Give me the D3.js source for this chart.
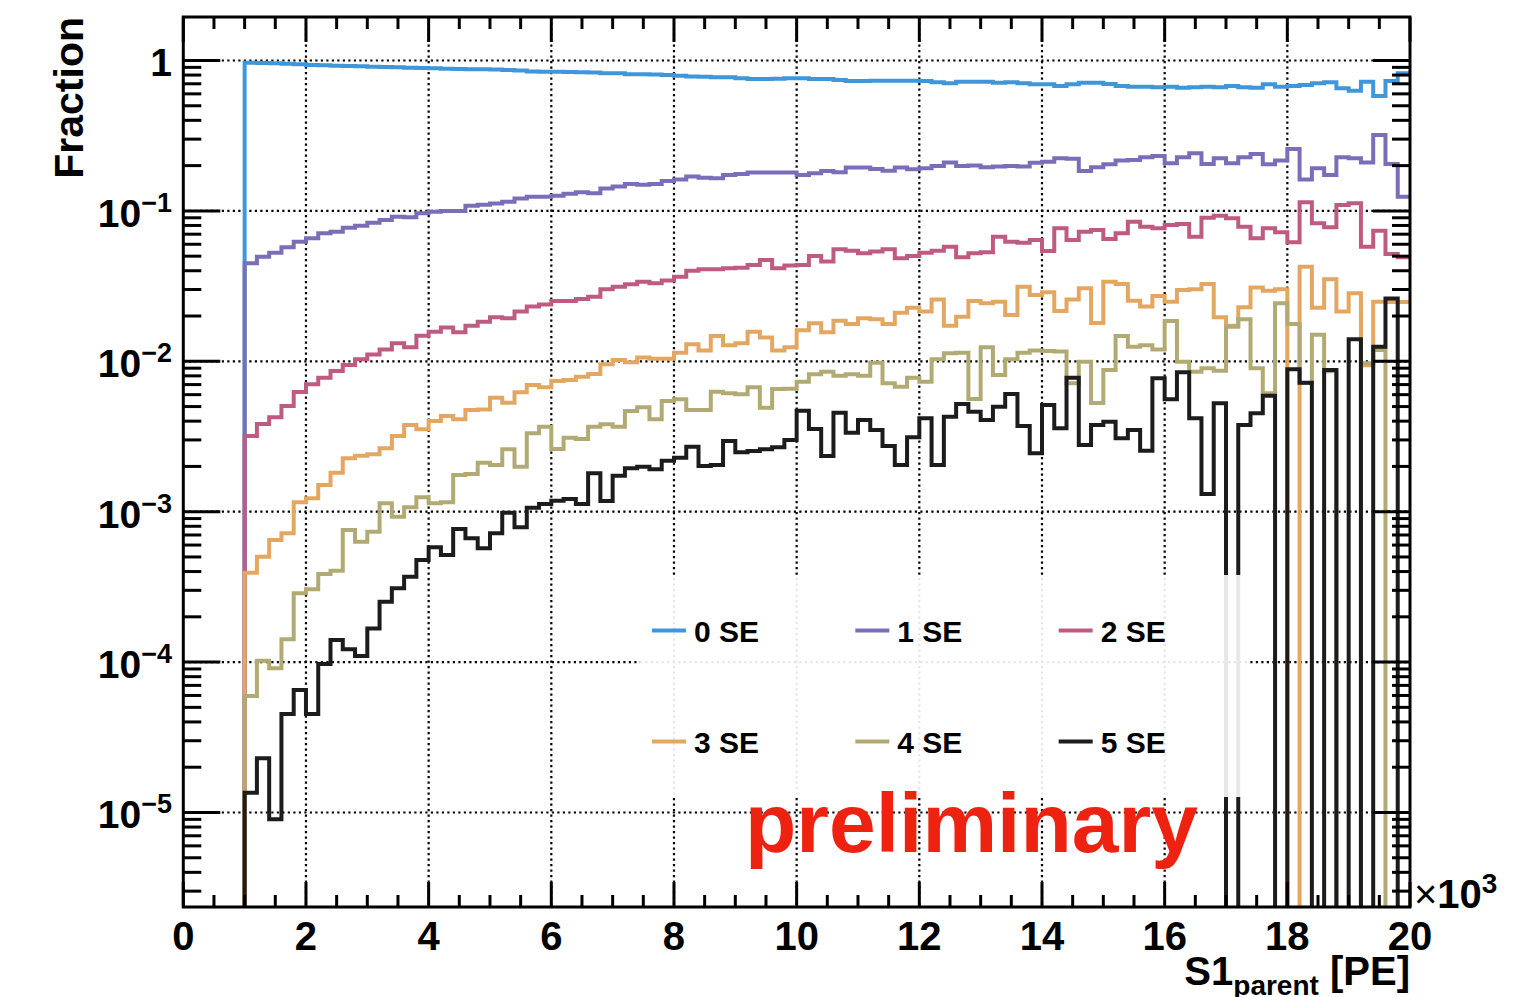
<!DOCTYPE html>
<html><head><meta charset="utf-8">
<script src="https://cdn.jsdelivr.net/npm/d3@7/dist/d3.min.js"></script>
<style>
body{margin:0;background:#fff}
svg{display:block}
text{font-family:"Liberation Sans",Arial,Helvetica,sans-serif;font-weight:bold;fill:#000}
</style>
</head><body>
<svg id="chart" width="1537" height="997"></svg>
<script>
// ---------- data ----------
const binWidth = 200;           // PE per bin
const binCount = 100;           // 0 .. 20000 PE
const seriesNames = ["0 SE", "1 SE", "2 SE", "3 SE", "4 SE", "5 SE"];
const seriesColors = ["#3f97d9", "#7c6db8", "#bf5a80", "#e3a762", "#b1ab73", "#1c1c1c"];

const se0 = [0,0,0,0,0,
 0.967,0.962,0.958,0.952,0.944,0.933,0.929,0.923,0.919,0.915,0.909,0.905,0.901,0.896,0.891,0.887,0.882,0.878,0.875,0.874,
 0.871,0.865,0.858,0.845,0.842,0.842,0.839,0.835,0.832,0.822,0.822,0.810,0.810,0.807,0.801,0.792,0.783,0.780,0.773,0.773,
 0.761,0.753,0.753,0.757,0.761,0.761,0.753,0.753,0.742,0.731,0.731,0.734,0.734,0.734,0.734,0.731,0.716,0.705,0.723,0.723,
 0.723,0.712,0.716,0.705,0.695,0.695,0.677,0.695,0.712,0.712,0.698,0.677,0.670,0.670,0.663,0.670,0.659,0.663,0.670,0.663,
 0.677,0.663,0.659,0.695,0.670,0.677,0.687,0.705,0.716,0.654,0.630,0.723,0.581,0.731,0.822];

const se1 = [0,0,0,0,0,
 0.0448,0.0496,0.0527,0.0573,0.0624,0.0657,0.0710,0.0727,0.0773,0.0797,0.0834,0.0870,0.0915,0.0907,0.0964,0.0988,0.100,0.100,0.108,0.110,
 0.112,0.115,0.121,0.124,0.124,0.126,0.130,0.133,0.131,0.141,0.145,0.151,0.149,0.151,0.158,0.162,0.169,0.166,0.165,0.173,
 0.176,0.180,0.180,0.180,0.180,0.173,0.178,0.184,0.181,0.194,0.194,0.190,0.185,0.194,0.189,0.192,0.199,0.210,0.199,0.200,
 0.195,0.197,0.199,0.197,0.209,0.212,0.224,0.222,0.184,0.195,0.204,0.216,0.218,0.227,0.232,0.207,0.227,0.242,0.205,0.224,
 0.207,0.227,0.239,0.204,0.216,0.258,0.162,0.192,0.173,0.227,0.224,0.210,0.320,0.205,0.124];

const se2 = [0,0,0,0,0,
 0.00319,0.00383,0.00424,0.00504,0.00625,0.00703,0.00778,0.00862,0.00945,0.0103,0.0111,0.0120,0.0132,0.0124,0.0148,0.0157,0.0168,0.0156,0.0172,0.0183,
 0.0196,0.0193,0.0214,0.0231,0.0239,0.0252,0.0252,0.0260,0.0269,0.0301,0.0313,0.0325,0.0338,0.0330,0.0344,0.0365,0.0400,0.0409,0.0409,0.0415,
 0.0419,0.0437,0.0472,0.0415,0.0433,0.0437,0.0501,0.0460,0.0556,0.0544,0.0523,0.0536,0.0556,0.0484,0.0501,0.0527,0.0544,0.0578,0.0492,0.0523,
 0.0531,0.0674,0.0624,0.0614,0.0640,0.0541,0.0766,0.0640,0.0727,0.0746,0.0650,0.0710,0.0847,0.0785,0.0766,0.0805,0.0818,0.0674,0.0901,0.0929,
 0.0893,0.0785,0.0657,0.0766,0.0721,0.0618,0.1141,0.0827,0.0778,0.1095,0.1123,0.0578,0.0738,0.0517,0.0492];

const se3 = [0,0,0,0,0,
 3.93e-4,5.02e-4,6.48e-4,7.19e-4,1.155e-3,1.227e-3,1.504e-3,1.816e-3,2.265e-3,2.357e-3,2.408e-3,2.639e-3,3.186e-3,3.771e-3,3.531e-3,4.009e-3,4.326e-3,4.113e-3,4.746e-3,4.78e-3,
 5.73e-3,5.31e-3,6.22e-3,6.96e-3,6.72e-3,7.40e-3,7.51e-3,7.90e-3,8.23e-3,9.55e-3,0.0102,9.85e-3,0.0106,0.0104,0.0104,0.0114,0.0130,0.0118,0.0147,0.0128,
 0.0132,0.0157,0.0144,0.0118,0.0124,0.0161,0.0179,0.0156,0.0186,0.0177,0.0193,0.0190,0.0177,0.0210,0.0227,0.0214,0.0258,0.0172,0.0198,0.0252,
 0.0243,0.0249,0.0203,0.0313,0.0276,0.0288,0.0216,0.0258,0.0306,0.0180,0.0338,0.0327,0.0253,0.0231,0.0272,0.0249,0.0298,0.0301,0.0327,0.0196,
 0.0172,0.0229,0.0310,0.0295,0.0301,0,0.0426,0.0227,0.0351,0.0214,0.0283,0.0094,0.0249,0.0248,0.0248];

const se4 = [0,0,0,0,0,
 5.95e-5,1.02e-4,9.09e-5,1.42e-4,2.87e-4,3.05e-4,3.85e-4,4.05e-4,7.56e-4,6.32e-4,7.36e-4,1.137e-3,9.26e-4,1.07e-3,1.246e-3,1.137e-3,1.155e-3,1.754e-3,1.781e-3,2.117e-3,
 2.044e-3,2.599e-3,1.991e-3,3.321e-3,3.674e-3,2.611e-3,3.105e-3,3.044e-3,3.674e-3,3.812e-3,3.674e-3,4.673e-3,4.944e-3,4.11e-3,5.445e-3,5.588e-3,4.746e-3,4.746e-3,6.278e-3,6.126e-3,
 6.034e-3,6.72e-3,4.914e-3,6.543e-3,6.58e-3,7.317e-3,8.195e-3,8.53e-3,8.02e-3,8.195e-3,8.02e-3,9.79e-3,7.14e-3,6.78e-3,7.78e-3,7.317e-3,0.0103,0.0113,0.0114,5.61e-3,
 0.0124,8.10e-3,0.0103,0.0114,0.0118,0.0117,0.0116,7.14e-3,9.94e-3,5.28e-3,8.75e-3,0.0147,0.0125,0.0128,0.0120,0.0185,9.94e-3,8.53e-3,8.98e-3,8.66e-3,
 0.0170,0.0190,8.98e-3,6.13e-3,0.0243,0.0177,7.17e-3,0.0150,8.6e-3,0,0,9.70e-3,0.0119,0,0];

const se5 = [0,0,0,0,0,
 1.354e-5,2.29e-5,9.0e-6,4.52e-5,6.52e-5,4.52e-5,9.71e-5,1.402e-4,1.217e-4,1.098e-4,1.673e-4,2.52e-4,3.10e-4,3.70e-4,4.78e-4,5.80e-4,5.15e-4,7.67e-4,6.65e-4,5.71e-4,
 7.19e-4,9.85e-4,7.88e-4,1.063e-3,1.125e-3,1.183e-3,1.214e-3,1.125e-3,1.800e-3,1.178e-3,1.735e-3,1.943e-3,1.991e-3,1.913e-3,2.183e-3,2.286e-3,2.705e-3,2.013e-3,2.044e-3,2.952e-3,
 2.482e-3,2.533e-3,2.599e-3,2.680e-3,2.998e-3,4.694e-3,3.548e-3,2.346e-3,4.552e-3,3.352e-3,4.071e-3,3.494e-3,2.734e-3,2.044e-3,3.124e-3,4.178e-3,2.044e-3,4.281e-3,5.200e-3,4.623e-3,
 4.071e-3,4.989e-3,6.061e-3,3.713e-3,2.445e-3,5.121e-3,3.586e-3,7.78e-3,2.776e-3,3.771e-3,3.967e-3,3.076e-3,3.494e-3,2.544e-3,7.71e-3,5.59e-3,8.45e-3,4.178e-3,1.311e-3,5.26e-3,
 0,3.771e-3,4.51e-3,5.905e-3,0,8.85e-3,7.20e-3,0,8.75e-3,0,0.0140,0,0.0125,0.0262,0];

const xTickValues = [0, 2000, 4000, 6000, 8000, 10000, 12000, 14000, 16000, 18000, 20000];
const xTickLabels = ["0","2","4","6","8","10","12","14","16","18","20"];
const yTickValues = [1, 1e-1, 1e-2, 1e-3, 1e-4, 1e-5];
const yTickExponents = [null, "\u22121", "\u22122", "\u22123", "\u22124", "\u22125"];
const xRange = [0, 20000];
const yRange = [2.353e-6, 1.946];

// ---------- layout ----------
const L = 183.3, R = 1410, T = 17, B = 907;
const svg = d3.select("#chart");

const x = d3.scaleLinear().domain(xRange).range([L, R]);
const y = d3.scaleLog().domain(yRange).range([B, T]);

svg.append("defs").append("clipPath").attr("id", "plotclip")
  .append("rect").attr("x", L).attr("y", T).attr("width", R - L).attr("height", B - T);

// grid
const grid = svg.append("g").attr("stroke", "#000").attr("stroke-width", 2.2)
  .attr("stroke-dasharray", "2.2 3.3");
xTickValues.slice(1, -1).forEach(v => {
  grid.append("line").attr("x1", x(v)).attr("x2", x(v)).attr("y1", T).attr("y2", B);
});
yTickValues.forEach(v => {
  grid.append("line").attr("x1", L).attr("x2", R).attr("y1", y(v)).attr("y2", y(v));
});

// histograms
const allSeries = [se0, se1, se2, se3, se4, se5];
const edges = d3.range(binCount + 1).map(i => i * binWidth);
const yb = y.range()[0];
const line = d3.line()
  .x(d => x(d[0]))
  .y(d => (d[1] > yRange[0]) ? y(d[1]) : yb + 2)
  .curve(d3.curveStepAfter);

const hg = svg.append("g").attr("clip-path", "url(#plotclip)");
allSeries.forEach((vals, si) => {
  const pts = vals.map((v, i) => [edges[i], v]);
  pts.push([edges[binCount], vals[binCount - 1]]);
  hg.append("path").attr("d", line(pts))
    .attr("fill", "none").attr("stroke", seriesColors[si])
    .attr("stroke-width", 4).attr("stroke-linejoin", "miter");
});

// legend
const lgX = 640, lgY = 575, lgW = 610, lgH = 222;
svg.append("rect").attr("x", lgX).attr("y", lgY).attr("width", lgW).attr("height", lgH)
  .attr("fill", "#fff").attr("fill-opacity", 0.9);
const colW = lgW / 3, rowH = lgH / 2;
seriesNames.forEach((name, i) => {
  const cx = lgX + (i % 3) * colW;
  const cy = lgY + Math.floor(i / 3) * rowH + rowH / 2;
  svg.append("line").attr("x1", cx + 12).attr("x2", cx + 46).attr("y1", cy).attr("y2", cy)
    .attr("stroke", seriesColors[i]).attr("stroke-width", 4);
  svg.append("text").attr("x", cx + 54).attr("y", cy + 11).attr("font-size", 30).text(name);
});

// preliminary
svg.append("text").attr("x", 745).attr("y", 852).attr("font-size", 84)
  .style("fill", "#ee2211").text("preliminary");

// frame + ticks
const axes = svg.append("g").attr("stroke", "#000");
const xMinor = d3.range(xRange[0], xRange[1] + 1, 500);
xMinor.forEach(v => {
  const major = (v % 2000 === 0);
  const len = major ? 25 : 12;
  axes.append("line").attr("x1", x(v)).attr("x2", x(v)).attr("y1", B).attr("y2", B - len).attr("stroke-width", 3);
  axes.append("line").attr("x1", x(v)).attr("x2", x(v)).attr("y1", T).attr("y2", T + len).attr("stroke-width", 3);
});
const yMinor = [];
for (let e = -6; e <= 0; e++) for (let k = 1; k <= 9; k++) {
  const v = k * Math.pow(10, e);
  if (v >= yRange[0] && v <= yRange[1]) yMinor.push([v, k === 1]);
}
yMinor.forEach(([v, major]) => {
  const len = major ? 37 : 18;
  axes.append("line").attr("x1", L).attr("x2", L + len).attr("y1", y(v)).attr("y2", y(v)).attr("stroke-width", 3);
  axes.append("line").attr("x1", R).attr("x2", R - len).attr("y1", y(v)).attr("y2", y(v)).attr("stroke-width", 3);
});
axes.append("rect").attr("x", L).attr("y", T).attr("width", R - L).attr("height", B - T)
  .attr("fill", "none").attr("stroke-width", 3);

// x tick labels
xTickValues.forEach((v, i) => {
  svg.append("text").attr("x", x(v)).attr("y", 950).attr("text-anchor", "middle")
    .attr("font-size", 40).text(xTickLabels[i]);
});
// y tick labels
yTickValues.forEach((v, i) => {
  const t = svg.append("text").attr("x", 172).attr("y", y(v) + 16).attr("text-anchor", "end").attr("font-size", 39);
  if (yTickExponents[i] === null) {
    t.text("1");
  } else {
    t.append("tspan").text("10");
    t.append("tspan").attr("font-size", 27).attr("dy", -15).text(yTickExponents[i]);
  }
});

// x10^3
const mult = svg.append("text").attr("x", 1414).attr("y", 908).attr("font-size", 40);
mult.append("tspan").style("font-weight", "normal").text("\u00d7");
mult.append("tspan").text("10");
mult.append("tspan").attr("font-size", 28).attr("dy", -15).text("3");

// axis titles
const xt = svg.append("text").attr("x", R).attr("y", 985).attr("text-anchor", "end").attr("font-size", 40);
xt.append("tspan").text("S1");
xt.append("tspan").attr("font-size", 28).attr("dy", 10).text("parent");
xt.append("tspan").attr("dy", -10).text(" [PE]");

svg.append("text").attr("transform", "translate(83,17) rotate(-90)")
  .attr("text-anchor", "end").attr("font-size", 41).text("Fraction");
</script>
</body></html>
